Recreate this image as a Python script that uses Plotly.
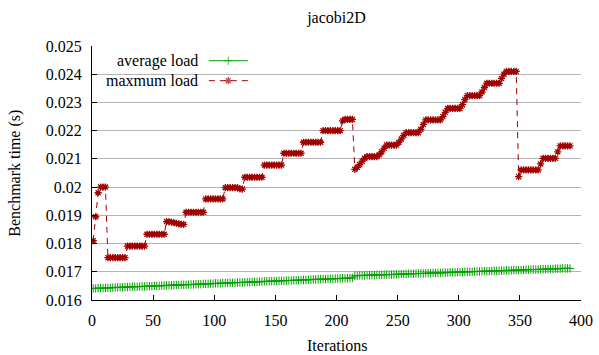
import plotly.graph_objects as go

# ---------------- data ----------------
iterations = list(range(1, 392, 2))  # 196 sampled iterations

avg_load = [
    0.01641, 0.01641, 0.01642, 0.01642, 0.01642, 0.01643, 0.01643, 0.01643, 0.01644, 0.01644,
    0.01645, 0.01645, 0.01645, 0.01646, 0.01646, 0.01646, 0.01647, 0.01647, 0.01647, 0.01648,
    0.01648, 0.01648, 0.01649, 0.01649, 0.01649, 0.01650, 0.01650, 0.01650, 0.01651, 0.01651,
    0.01652, 0.01652, 0.01652, 0.01653, 0.01653, 0.01653, 0.01654, 0.01654, 0.01654, 0.01655,
    0.01655, 0.01655, 0.01656, 0.01656, 0.01656, 0.01657, 0.01657, 0.01657, 0.01658, 0.01658,
    0.01659, 0.01659, 0.01659, 0.01660, 0.01660, 0.01660, 0.01661, 0.01661, 0.01661, 0.01662,
    0.01662, 0.01662, 0.01663, 0.01663, 0.01663, 0.01664, 0.01664, 0.01664, 0.01665, 0.01665,
    0.01666, 0.01666, 0.01666, 0.01667, 0.01667, 0.01667, 0.01668, 0.01668, 0.01668, 0.01669,
    0.01669, 0.01669, 0.01670, 0.01670, 0.01670, 0.01671, 0.01671, 0.01671, 0.01672, 0.01672,
    0.01673, 0.01673, 0.01673, 0.01674, 0.01674, 0.01674, 0.01675, 0.01675, 0.01675, 0.01676,
    0.01676, 0.01676, 0.01677, 0.01677, 0.01677, 0.01678, 0.01678,
    0.01686, 0.01686, 0.01687, 0.01687, 0.01687, 0.01688, 0.01688, 0.01688, 0.01688, 0.01689,
    0.01689, 0.01689, 0.01690, 0.01690, 0.01690, 0.01690, 0.01691, 0.01691, 0.01691, 0.01692,
    0.01692, 0.01692, 0.01693, 0.01693, 0.01693, 0.01694, 0.01694, 0.01694, 0.01694, 0.01695,
    0.01695, 0.01695, 0.01696, 0.01696, 0.01696, 0.01696, 0.01697, 0.01697, 0.01697, 0.01698,
    0.01698, 0.01698, 0.01699, 0.01699, 0.01699, 0.01700, 0.01700, 0.01700, 0.01700, 0.01701,
    0.01701, 0.01701, 0.01702, 0.01702, 0.01702, 0.01702, 0.01703, 0.01703, 0.01703, 0.01704,
    0.01704, 0.01704, 0.01705, 0.01705, 0.01705, 0.01706, 0.01706, 0.01706, 0.01706, 0.01707,
    0.01707, 0.01707, 0.01708, 0.01708, 0.01708, 0.01708, 0.01709, 0.01709, 0.01709, 0.01710,
    0.01710, 0.01710, 0.01711, 0.01711, 0.01711, 0.01712, 0.01712, 0.01712, 0.01712,
]

max_load = [
    0.01810, 0.01895, 0.01980, 0.02000, 0.02000, 0.02000,
    0.01750, 0.01750, 0.01750, 0.01750, 0.01750, 0.01750, 0.01750, 0.01750,
    0.01791, 0.01791, 0.01791, 0.01791, 0.01791, 0.01791, 0.01791, 0.01791,
    0.01833, 0.01833, 0.01833, 0.01833, 0.01833, 0.01833, 0.01833, 0.01833,
    0.01878, 0.01877, 0.01876, 0.01874, 0.01872, 0.01870, 0.01868, 0.01868,
    0.01911, 0.01911, 0.01911, 0.01911, 0.01911, 0.01911, 0.01911, 0.01911,
    0.01958, 0.01958, 0.01958, 0.01958, 0.01958, 0.01958, 0.01958, 0.01958,
    0.01998, 0.01998, 0.01998, 0.01998, 0.01998, 0.01998, 0.01994, 0.01993,
    0.02035, 0.02035, 0.02035, 0.02035, 0.02035, 0.02035, 0.02035, 0.02035,
    0.02078, 0.02078, 0.02078, 0.02078, 0.02078, 0.02078, 0.02078, 0.02078,
    0.02120, 0.02120, 0.02120, 0.02120, 0.02120, 0.02120, 0.02120, 0.02120,
    0.02159, 0.02159, 0.02159, 0.02159, 0.02159, 0.02159, 0.02159, 0.02159,
    0.02200, 0.02200, 0.02200, 0.02200, 0.02200, 0.02200, 0.02200, 0.02200,
    0.02235, 0.02240, 0.02240, 0.02240, 0.02240,
    0.02063, 0.02070, 0.02080, 0.02092, 0.02102,
    0.02108, 0.02108, 0.02108, 0.02108, 0.02108,
    0.02115, 0.02125, 0.02138,
    0.02149, 0.02149, 0.02149, 0.02149, 0.02149,
    0.02158, 0.02170, 0.02183,
    0.02193, 0.02193, 0.02193, 0.02193, 0.02193, 0.02193,
    0.02205, 0.02222,
    0.02238, 0.02238, 0.02238, 0.02238, 0.02238, 0.02238, 0.02238,
    0.02250, 0.02265,
    0.02279, 0.02279, 0.02279, 0.02279, 0.02279, 0.02279,
    0.02292, 0.02310,
    0.02324, 0.02324, 0.02324, 0.02324, 0.02324, 0.02324,
    0.02337, 0.02353,
    0.02368, 0.02368, 0.02368, 0.02368, 0.02368, 0.02368,
    0.02385, 0.02400,
    0.02410, 0.02410, 0.02410, 0.02410, 0.02410,
    0.02037,
    0.02061, 0.02061, 0.02061, 0.02061, 0.02061, 0.02061, 0.02061, 0.02061,
    0.02082,
    0.02102, 0.02102, 0.02102, 0.02102, 0.02102, 0.02102,
    0.02125,
    0.02146, 0.02146, 0.02146, 0.02146, 0.02146,
]

x_ticks = [0, 50, 100, 150, 200, 250, 300, 350, 400]
y_ticks = [0.016, 0.017, 0.018, 0.019, 0.020, 0.021, 0.022, 0.023, 0.024, 0.025]
y_tick_labels = ["0.016", "0.017", "0.018", "0.019", "0.02", "0.021", "0.022", "0.023", "0.024", "0.025"]

series_names = ["average load", "maxmum load"]
title_text = "jacobi2D"
x_title = "Iterations"
y_title = "Benchmark time (s)"

# ---------------- style ----------------
FONT = '"Liberation Serif", "Times New Roman", serif'
GREEN = "#00a000"
RED = "#a00000"
FS = 16

fig = go.Figure()

fig.add_trace(go.Scatter(
    x=iterations, y=avg_load, mode="lines+markers", name=series_names[0],
    line=dict(color=GREEN, width=1),
    marker=dict(symbol="cross-thin-open", size=6, line=dict(color=GREEN, width=1)),
    showlegend=False,
))
fig.add_trace(go.Scatter(
    x=iterations, y=max_load, mode="lines+markers", name=series_names[1],
    line=dict(color=RED, width=1, dash="6px,5px"),
    marker=dict(symbol="asterisk-open", size=6, line=dict(color=RED, width=1.3)),
    showlegend=False,
))

# custom gnuplot-style legend (text left, sample right) on an overlay axis
leg_rows = [0.942, 0.8634]
sample_x = [0.239, 0.2787, 0.319]
fig.add_trace(go.Scatter(
    x=sample_x, y=[leg_rows[0]] * 3, xaxis="x2", yaxis="y2", mode="lines+markers",
    line=dict(color=GREEN, width=1),
    marker=dict(symbol="cross-thin-open", size=[0, 6, 0], line=dict(color=GREEN, width=1)),
    showlegend=False, hoverinfo="skip",
))
fig.add_trace(go.Scatter(
    x=sample_x, y=[leg_rows[1]] * 3, xaxis="x2", yaxis="y2", mode="lines+markers",
    line=dict(color=RED, width=1, dash="6px,5px"),
    marker=dict(symbol="asterisk-open", size=[0, 6, 0], line=dict(color=RED, width=1.3)),
    showlegend=False, hoverinfo="skip",
))

annotations = []
for name, yy in zip(series_names, leg_rows):
    annotations.append(dict(
        text=name, x=0.2204, y=yy, xref="paper", yref="paper",
        xanchor="right", yanchor="middle", showarrow=False,
        font=dict(family=FONT, size=FS, color="black"),
    ))
annotations.append(dict(
    text=y_title, x=-0.158, y=0.5, xref="paper", yref="paper", textangle=-90,
    xanchor="center", yanchor="middle", showarrow=False,
    font=dict(family=FONT, size=FS, color="black"),
))
annotations.append(dict(
    text=x_title, x=0.5, y=-0.181, xref="paper", yref="paper",
    xanchor="center", yanchor="middle", showarrow=False,
    font=dict(family=FONT, size=FS, color="black"),
))

fig.update_layout(
    width=599, height=355,
    margin=dict(l=92, r=18, t=46, b=55),
    paper_bgcolor="white", plot_bgcolor="white",
    font=dict(family=FONT, size=FS, color="black"),
    title=dict(text=title_text, x=0.5, xref="paper", y=1 - 17 / 355, yref="container",
               xanchor="center", yanchor="middle",
               font=dict(family=FONT, size=FS, color="black")),
    showlegend=False,
    annotations=annotations,
    shapes=[dict(type="rect", xref="paper", yref="paper",
                 x0=0.01, x1=0.335, y0=0.82, y1=0.99,
                 fillcolor="white", line=dict(width=0), layer="between")],
    xaxis=dict(
        range=[0, 400], tickvals=x_ticks, ticks="inside", ticklen=5, tickcolor="black",
        showline=True, linecolor="black", linewidth=1, mirror=False,
        showgrid=False, zeroline=False, ticklabelstandoff=6, automargin=False,
        tickfont=dict(family=FONT, size=FS, color="black"),
    ),
    yaxis=dict(
        range=[0.016, 0.025], tickvals=y_ticks, ticktext=y_tick_labels,
        ticks="inside", ticklen=5, tickcolor="black",
        showline=True, linecolor="black", linewidth=1, mirror=False,
        showgrid=True, gridcolor="#b4b4b4", gridwidth=1, zeroline=False,
        ticklabelstandoff=6, automargin=False,
        tickfont=dict(family=FONT, size=FS, color="black"),
    ),
    xaxis2=dict(range=[0, 1], overlaying="x", visible=False, anchor="y2"),
    yaxis2=dict(range=[0, 1], overlaying="y", visible=False, anchor="x2"),
)

fig.write_html("out.html", config={"displayModeBar": False},
               post_script="document.body.style.margin='0';")
